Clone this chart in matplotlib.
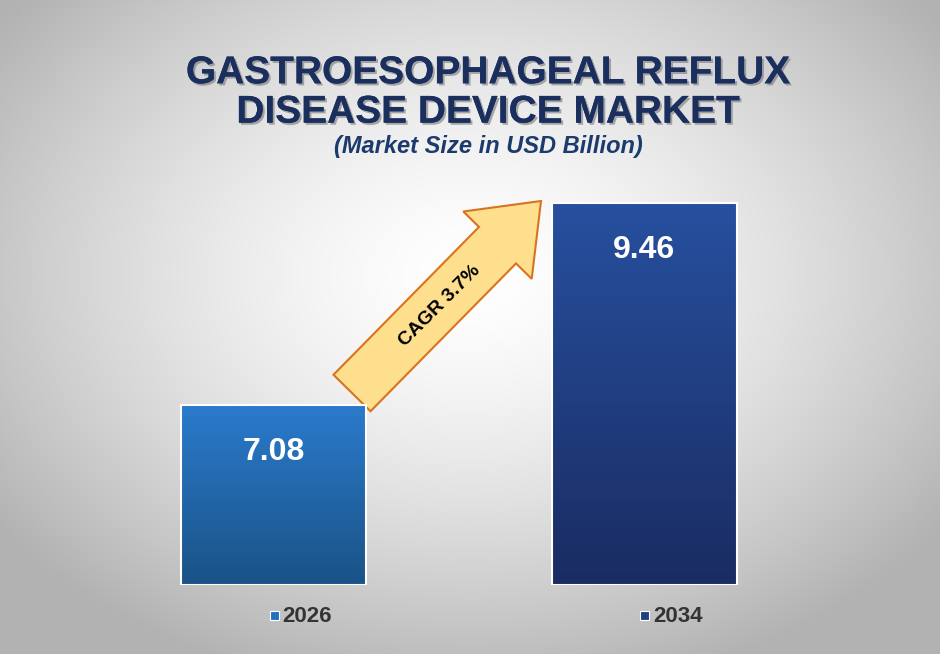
import numpy as np
import matplotlib
matplotlib.use("Agg")
import matplotlib.pyplot as plt
from matplotlib.patches import Polygon, Rectangle
import matplotlib.patheffects as pe

plt.rcParams['font.family'] = ['Liberation Sans', 'DejaVu Sans']

years = ["2026", "2034"]
values = [7.08, 9.46]
cagr_label = "CAGR 3.7%"
title = "GASTROESOPHAGEAL REFLUX\nDISEASE DEVICE MARKET"
subtitle = "(Market Size in USD Billion)"

W, H = 940, 654
fig = plt.figure(figsize=(9.4, 6.54), dpi=100)

bg = fig.add_axes([0, 0, 1, 1])
yy, xx = np.mgrid[0:H, 0:W]
r = np.sqrt(((xx - W * 0.5) / (W * 0.62)) ** 2 + ((yy - H * 0.42) / (H * 0.65)) ** 2)
r = np.clip(r, 0, 1)
g = 1.0 - 0.3 * r ** 1.5
bg.imshow(np.dstack([g, g, g]), extent=[0, W, H, 0], aspect="auto")
bg.set_xlim(0, W); bg.set_ylim(H, 0); bg.axis("off")

ax = fig.add_axes([0, (H - 585) / H, 1, (585 - 150) / H])
ax.axis("off")
ax.patch.set_alpha(0)

xs = [273.5, 644]
width = 185
base = 4.965
grads = [("#2b7bcc", "#1a5286"), ("#27509f", "#1a2c62")]
for x, v, (c1, c2) in zip(xs, values, grads):
    rect = Rectangle((x - width / 2, base), width, v - base, facecolor="none",
                     edgecolor="white", lw=1.5, zorder=3)
    ax.add_patch(rect)
    a = np.array(matplotlib.colors.to_rgb(c1)); b = np.array(matplotlib.colors.to_rgb(c2))
    t = np.linspace(0, 1, 256)[:, None]
    img = (a * (1 - t) + b * t)[:, None, :]
    im = ax.imshow(img, extent=[x - width / 2, x + width / 2, base, v], aspect="auto",
                   origin="upper", zorder=2)
    im.set_clip_path(rect)
    ax.text(x, v - 0.55, f"{v:.2f}", ha="center", va="center", color="white",
            fontsize=23, fontweight="bold", zorder=4)
ax.set_xlim(0, W); ax.set_ylim(base, 10.08)

p0 = np.array([352, 393]); p1 = np.array([541, 201])
d = (p1 - p0) / np.linalg.norm(p1 - p0)
n = np.array([d[1], -d[0]])
L = np.linalg.norm(p1 - p0)
sw, hw, hl = 26, 48, 62
pts = [p0 + n * sw, p0 + d * (L - hl) + n * sw, p0 + d * (L - hl) + n * hw, p1,
       p0 + d * (L - hl) - n * hw, p0 + d * (L - hl) - n * sw, p0 - n * sw]
bg.add_patch(Polygon(pts, closed=True, facecolor="#fddf8e", edgecolor="#d9731f", lw=1.5))
bg.text(440, 306, cagr_label, rotation=45, ha="center", va="center", fontsize=14,
        fontweight="bold", color="black")

shadow = [pe.withSimplePatchShadow(offset=(1.5, -1.5), shadow_rgbFace="#777777", alpha=0.6), pe.Normal()]
bg.text(488, 93, title, ha="center", va="center", fontsize=28, fontweight="bold",
        color="#1b2f5e", linespacing=1.12, path_effects=shadow)
bg.text(488, 146, subtitle, ha="center", va="center", fontsize=17, fontweight="bold",
        style="italic", color="#1b3a6e")

for x, yr, c in zip(xs, years, ["#2370bb", "#22407f"]):
    bg.add_patch(Rectangle((x - 4, 611), 9, 9, facecolor=c, edgecolor="white", lw=0.8))
    bg.text(x + 9, 616, yr, ha="left", va="center", fontsize=16, fontweight="bold", color="#333333")

fig.savefig("out.png", dpi=100)
